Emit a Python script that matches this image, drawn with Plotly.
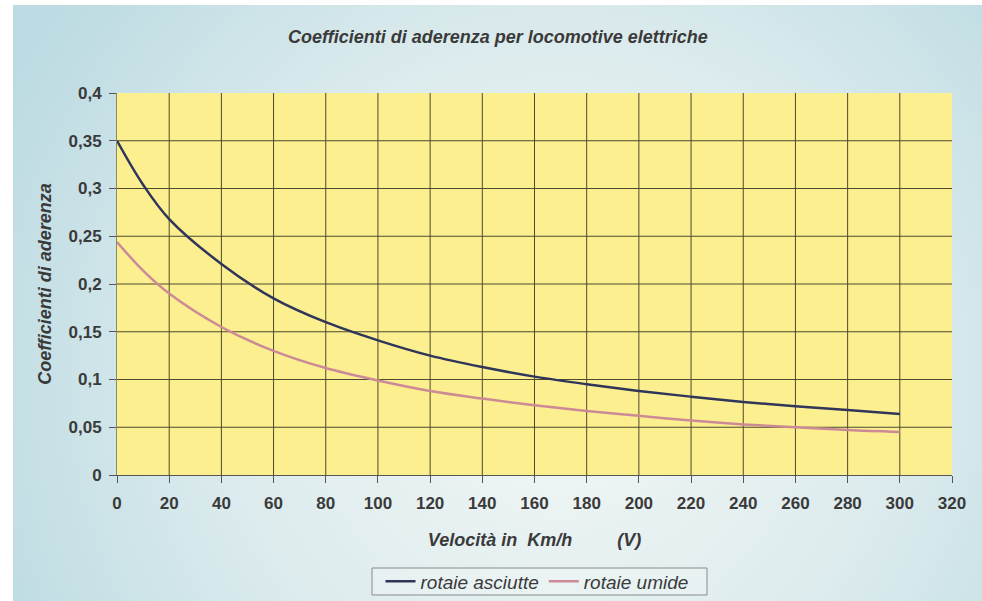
import base64
import plotly.graph_objects as go

# Adhesion coefficients for electric locomotives vs speed
speed_kmh = [0, 10, 20, 40, 60, 80, 100, 120, 140, 160, 180, 200, 220, 240, 260, 280, 300]
rotaie_asciutte = [0.350, 0.304, 0.268, 0.221, 0.185, 0.160, 0.141, 0.125, 0.113, 0.103,
                   0.095, 0.088, 0.082, 0.0765, 0.072, 0.068, 0.064]
rotaie_umide = [0.244, 0.214, 0.190, 0.155, 0.130, 0.112, 0.099, 0.088, 0.080, 0.073,
                0.067, 0.062, 0.057, 0.053, 0.050, 0.047, 0.045]

x_ticks = list(range(0, 321, 20))
y_ticks = [0, 0.05, 0.1, 0.15, 0.2, 0.25, 0.3, 0.35, 0.4]
y_tick_text = ["0", "0,05", "0,1", "0,15", "0,2", "0,25", "0,3", "0,35", "0,4"]

W, H = 982, 601
M_L, M_R, M_T, M_B = 117, 30, 93, 126
PW, PH = W - M_L - M_R, H - M_T - M_B
PLOT_BOTTOM = M_T + PH

TEXT = "#3a3a3a"
GRID = "#4d4a2e"
TICK_FONT = dict(family="Liberation Sans, Arial", size=17, color=TEXT, weight="bold")
ITALIC = dict(family="Liberation Sans, Arial", color=TEXT, style="italic", weight="bold")


def px_to_paper_x(px):
    return (px - M_L) / PW


def px_to_paper_y(py):
    return (PLOT_BOTTOM - py) / PH


# soft blue page background
svg = f"""<svg xmlns='http://www.w3.org/2000/svg' width='{W}' height='{H}' viewBox='0 0 {W} {H}' preserveAspectRatio='none'>
<defs><radialGradient id='g' gradientUnits='userSpaceOnUse' cx='560' cy='380' r='620'>
<stop offset='0' stop-color='#f3f7f6'/><stop offset='0.55' stop-color='#dcebed'/><stop offset='1' stop-color='#bcdbe2'/>
</radialGradient></defs>
<rect width='{W}' height='{H}' fill='#ffffff'/>
<rect x='13' y='5' width='{W-13}' height='{H-5}' fill='url(#g)'/>
</svg>"""
bg_src = "data:image/svg+xml;base64," + base64.b64encode(svg.encode()).decode()

# yellow plot area, then interior grid lines (none on the top/right edges)
shapes = [dict(type="rect", xref="x domain", yref="y domain", x0=0, x1=1, y0=0, y1=1,
               fillcolor="#fcef90", line=dict(width=0), layer="below")]
for xv in x_ticks[1:-1]:
    shapes.append(dict(type="line", xref="x", yref="y domain", x0=xv, x1=xv, y0=0, y1=1,
                       line=dict(color=GRID, width=1), layer="below"))
for yv in y_ticks[1:-1]:
    shapes.append(dict(type="line", xref="x domain", yref="y", x0=0, x1=1, y0=yv, y1=yv,
                       line=dict(color=GRID, width=1), layer="below"))
# legend frame
shapes.append(dict(type="rect", xref="paper", yref="paper",
                   x0=px_to_paper_x(372), x1=px_to_paper_x(707),
                   y0=px_to_paper_y(595), y1=px_to_paper_y(568),
                   fillcolor="rgba(255,255,255,0.2)", line=dict(color="#8a8a8a", width=1),
                   layer="above"))

fig = go.Figure()
fig.add_trace(go.Scatter(
    x=speed_kmh, y=rotaie_asciutte, name="rotaie asciutte", mode="lines",
    line=dict(color="#30355a", width=2.5, shape="spline", smoothing=1.0),
))
fig.add_trace(go.Scatter(
    x=speed_kmh, y=rotaie_umide, name="rotaie umide", mode="lines",
    line=dict(color="#cc8a96", width=2.5, shape="spline", smoothing=1.0),
))

fig.update_layout(
    width=W, height=H,
    margin=dict(l=M_L, r=M_R, t=M_T, b=M_B, autoexpand=False),
    paper_bgcolor="#d8eaee",
    plot_bgcolor="rgba(0,0,0,0)",
    images=[dict(
        source=bg_src, xref="paper", yref="paper",
        x=-M_L / PW, y=1 + M_T / PH, sizex=W / PW, sizey=H / PH,
        xanchor="left", yanchor="top", sizing="stretch", layer="below",
    )],
    shapes=shapes,
    title=dict(
        text="Coefficienti di aderenza per locomotive elettriche",
        x=498 / W, xanchor="center", y=1 - 37 / H, yanchor="middle",
        font=dict(**ITALIC, size=18),
    ),
    xaxis=dict(
        range=[0, 320], tickvals=x_ticks, ticks="outside", ticklen=7, tickcolor="#555",
        showgrid=False, showline=True, linecolor="#555", linewidth=1, zeroline=False,
        tickfont=TICK_FONT, ticklabelstandoff=6,
        title=dict(text="Velocità in\u00a0 Km/h\u00a0\u00a0\u00a0\u00a0\u00a0\u00a0\u00a0\u00a0 (V)",
                   font=dict(**ITALIC, size=18), standoff=20),
    ),
    yaxis=dict(
        range=[0, 0.4], tickvals=y_ticks, ticktext=y_tick_text, ticks="outside", ticklen=7,
        tickcolor="#555", showgrid=False,
        showline=True, linecolor="#8a8a60", linewidth=1, zeroline=False,
        tickfont=TICK_FONT, ticklabelstandoff=4,
        title=dict(text="Coefficienti di aderenza", font=dict(**ITALIC, size=18), standoff=12),
    ),
    legend=dict(
        orientation="h", x=px_to_paper_x(537), xanchor="center",
        y=px_to_paper_y(581.5), yanchor="middle",
        bgcolor="rgba(0,0,0,0)", borderwidth=0,
        font=dict(family="Liberation Sans, Arial", size=19, color=TEXT, style="italic"),
        itemwidth=30, tracegroupgap=0,
    ),
    showlegend=True,
)

fig.write_html("out.html")
